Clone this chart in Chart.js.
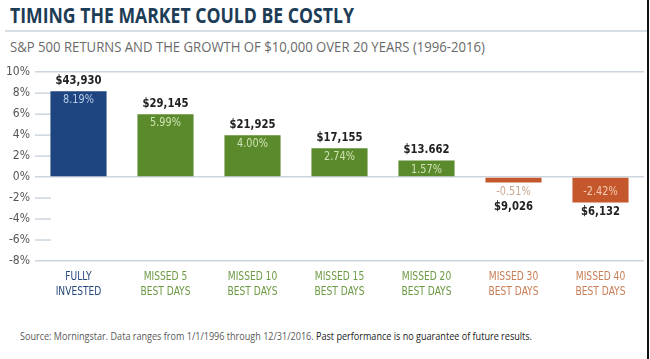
<!DOCTYPE html>
<html>
<head>
<meta charset="utf-8">
<script src="https://cdn.jsdelivr.net/npm/chart.js@4/dist/chart.umd.min.js"></script>
<style>
  html, body { margin: 0; padding: 0; background: #fff; }
  #wrap { position: relative; width: 650px; height: 359px; overflow: hidden; background: #fff; }
  .fit { position: absolute; white-space: nowrap; transform-origin: 0 50%; display: inline-block; }
  #title { left: 10px; top: 1px; font: bold 21px "Open Sans", sans-serif; color: #1d3c56; }
  #sub { left: 10px; top: 36px; font: 15px "Open Sans", sans-serif; color: #6a6a6a; }
  #foot { left: 20px; top: 328px; font: 11px "Open Sans", sans-serif; color: #5a5a5a; }
  #foot b { font-weight: normal; color: #222; }
  #sep { position: absolute; left: 5px; top: 30px; width: 643px; height: 2px; background: #d5dde5; }
  #edge { position: absolute; left: 647px; top: 0; width: 2px; height: 359px; background: #111; }
  #box { position: absolute; left: 0; top: 60px; width: 648px; height: 250px; }
</style>
</head>
<body>
<div id="wrap">
  <div id="title" class="fit" data-w="344">TIMING THE MARKET COULD BE COSTLY</div>
  <div id="sep"></div>
  <div id="sub" class="fit" data-w="475">S&amp;P 500 RETURNS AND THE GROWTH OF $10,000 OVER 20 YEARS (1996-2016)</div>
  <div id="box"><canvas id="chart"></canvas></div>
  <div id="foot" class="fit" data-w="512">Source: Morningstar. Data ranges from 1/1/1996 through 12/31/2016. <b>Past performance is no guarantee of future results.</b></div>
  <div id="edge"></div>
</div>
<script>
// squeeze header/footer text to the widths seen in the picture
document.querySelectorAll('.fit').forEach(el => {
    const w = el.getBoundingClientRect().width;
    el.style.transform = 'scaleX(' + (el.dataset.w / w) + ')';
});

// --- data ---
const categories = [
    ['FULLY', 'INVESTED'],
    ['MISSED 5', 'BEST DAYS'],
    ['MISSED 10', 'BEST DAYS'],
    ['MISSED 15', 'BEST DAYS'],
    ['MISSED 20', 'BEST DAYS'],
    ['MISSED 30', 'BEST DAYS'],
    ['MISSED 40', 'BEST DAYS']
];
const returns = [8.19, 5.99, 4.00, 2.74, 1.57, -0.51, -2.42];
const growthLabels = ['$43,930', '$29,145', '$21,925', '$17,155', '$13.662', '$9,026', '$6,132'];
const yTicks = [10, 8, 6, 4, 2, 0, -2, -4, -6, -8];

const barColors = ['#1e457f', '#5b8a2c', '#5b8a2c', '#5b8a2c', '#5b8a2c', '#c4572b', '#c4572b'];
const pctColors = ['#b8cce8', '#cfe3b2', '#cfe3b2', '#cfe3b2', '#cfe3b2', '#c9a78f', '#f4cbb3'];
const catColors = ['#27497c', '#6c9943', '#6c9943', '#6c9943', '#6c9943', '#c67d55', '#c67d55'];
const gridColor = '#cdd6de';
const narrow = '"Liberation Sans Narrow", "DejaVu Sans Condensed", sans-serif';

// text drawn with a horizontal squeeze, to mimic the condensed face
function squeezed(c, text, x, y, font, color, sx, baseline) {
    c.save();
    c.translate(x, y);
    c.scale(sx, 1);
    c.font = font;
    c.fillStyle = color;
    c.textAlign = 'center';
    c.textBaseline = baseline;
    c.fillText(text, 0, 0);
    c.restore();
}

// short tick marks inside the plot for the in-between y values
const shortTicks = {
    id: 'shortTicks',
    beforeDatasetsDraw(chart) {
        const c = chart.ctx, y = chart.scales.y, left = chart.chartArea.left;
        c.save();
        c.strokeStyle = gridColor;
        c.lineWidth = 1.5;
        yTicks.forEach(v => {
            if (v === 10 || v === 0 || v === -8) return;
            const py = y.getPixelForValue(v);
            c.beginPath();
            c.moveTo(left, py);
            c.lineTo(left + 16, py);
            c.stroke();
        });
        c.restore();
    }
};

// percent and dollar labels on each bar, category names under the axis
const barLabels = {
    id: 'barLabels',
    afterDatasetsDraw(chart) {
        const c = chart.ctx;
        const meta = chart.getDatasetMeta(0);
        const pctFont = '12px ' + narrow;
        const usdFont = 'bold 13px ' + narrow;
        meta.data.forEach((bar, i) => {
            const v = returns[i];
            const pct = v.toFixed(2) + '%';
            if (v >= 0) {
                squeezed(c, pct, bar.x, bar.y + 3, pctFont, pctColors[i], 0.9, 'top');
                squeezed(c, growthLabels[i], bar.x, bar.y - 4, usdFont, '#222', 0.86, 'bottom');
            } else if (bar.y - bar.base > 20) {
                squeezed(c, pct, bar.x, bar.base + 8, pctFont, pctColors[i], 0.9, 'top');
                squeezed(c, growthLabels[i], bar.x, bar.y + 3, usdFont, '#222', 0.86, 'top');
            } else {
                squeezed(c, pct, bar.x, bar.y + 3, pctFont, pctColors[i], 0.9, 'top');
                squeezed(c, growthLabels[i], bar.x, bar.y + 18, usdFont, '#222', 0.86, 'top');
            }
        });
        const xs = chart.scales.x, bottom = chart.chartArea.bottom;
        categories.forEach((lines, i) => {
            const px = xs.getPixelForValue(i);
            lines.forEach((t, k) => {
                squeezed(c, t, px, bottom + 16 + k * 15, '13px ' + narrow, catColors[i], 0.78, 'middle');
            });
        });
    }
};

new Chart(document.getElementById('chart'), {
    type: 'bar',
    data: {
        labels: categories,
        datasets: [{
            data: returns,
            backgroundColor: barColors,
            borderWidth: 0,
            categoryPercentage: 1,
            barPercentage: 0.645
        }]
    },
    options: {
        responsive: true,
        maintainAspectRatio: false,
        animation: false,
        layout: { padding: { top: 12, right: 4, left: 0, bottom: 0 } },
        plugins: { legend: { display: false }, tooltip: { enabled: false } },
        scales: {
            x: {
                grid: { display: false },
                border: { display: false },
                ticks: { display: false },
                afterFit(scale) { scale.height = 49; }
            },
            y: {
                min: -8,
                max: 10,
                border: { display: false },
                grid: {
                    drawTicks: false,
                    lineWidth: 1.5,
                    color: ctx => {
                        const v = ctx.tick ? ctx.tick.value : null;
                        return (v === 10 || v === 0 || v === -8) ? gridColor : 'rgba(0,0,0,0)';
                    }
                },
                ticks: {
                    stepSize: 2,
                    padding: 5,
                    color: '#555',
                    font: { family: narrow, size: 12 },
                    callback: v => v + '%'
                },
                afterFit(scale) { scale.width = 35; }
            }
        }
    },
    plugins: [shortTicks, barLabels]
});
</script>
</body>
</html>
